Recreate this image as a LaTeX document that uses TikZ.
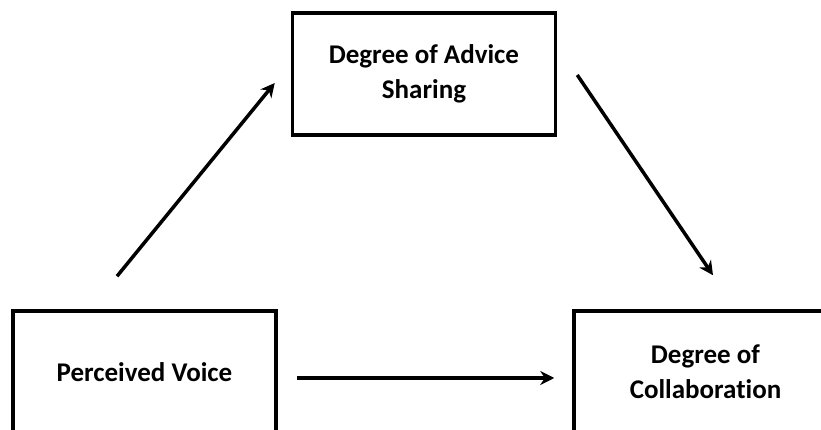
\documentclass[tikz,border=0pt]{standalone}
\usepackage{fontspec}
\setmainfont{Carlito}[Ligatures=NoCommon]
\usetikzlibrary{arrows.meta}

\begin{document}
\begin{tikzpicture}[x=1pt,y=1pt,
		varbox/.style={draw,line width=3.5pt,minimum width=263pt,minimum height=122pt,align=center,
			font=\bfseries\fontsize{27}{35}\selectfont},
		arrowline/.style={line width=3.5pt,-{Stealth[length=14pt,width=14pt]}}]
				\clip (0,0) rectangle (821,430);
				\node[varbox] (advice) at (424,356) {Degree of Advice\\Sharing};
				\node[varbox] (voice) at (144.5,58) {Perceived Voice};
				\node[varbox] (collab) at (705.5,58) {Degree of\\Collaboration};
				\draw[arrowline] ([xshift=-27.5pt,yshift=33pt]voice.north) -- ([xshift=-16pt,yshift=-9pt]advice.west);
				\draw[arrowline] ([xshift=20pt,yshift=-1pt]advice.east) -- ([xshift=7.5pt,yshift=34pt]collab.north);
				\draw[arrowline] ([xshift=19pt,yshift=-6pt]voice.east) -- ([xshift=-18pt,yshift=-6pt]collab.west);
		\end{tikzpicture}
\end{document}
